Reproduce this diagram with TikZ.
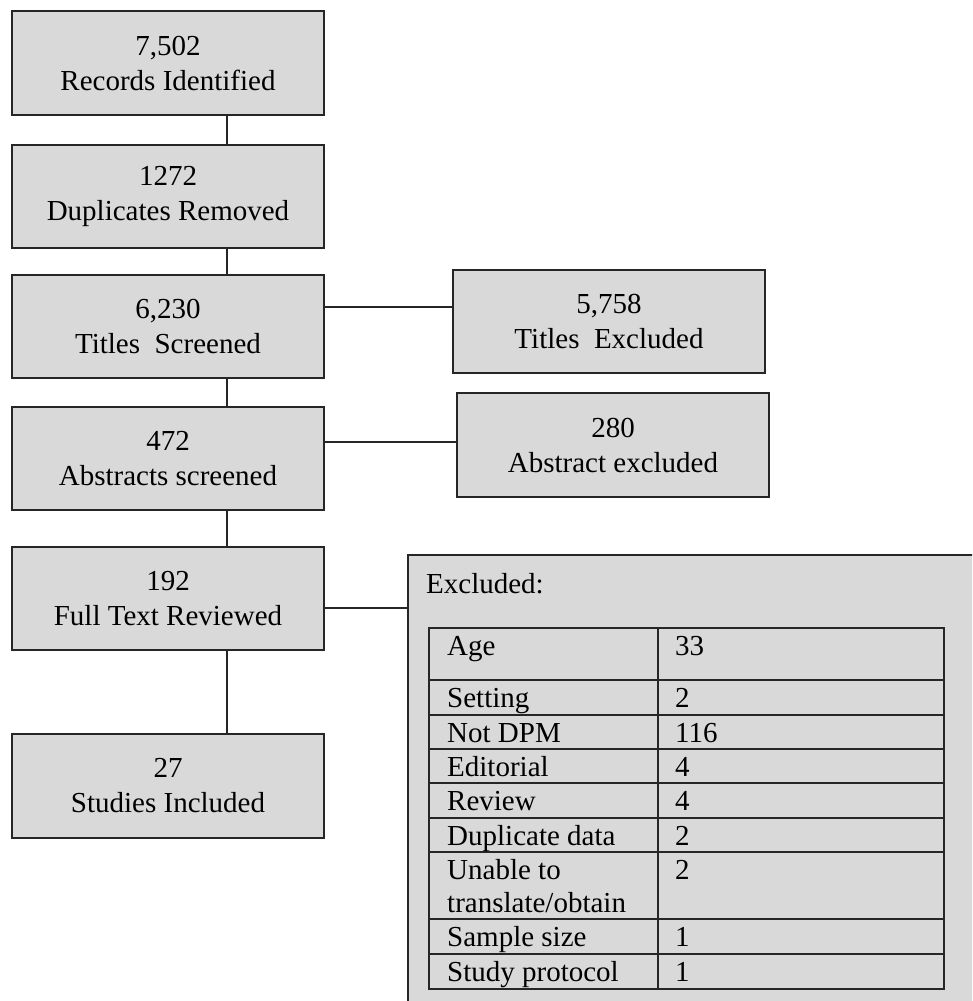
\documentclass[tikz,border=0pt]{standalone}
\usepackage{fontspec}
\setmainfont{Liberation Serif}
\definecolor{boxgray}{HTML}{D9D9D9}
\definecolor{linegray}{HTML}{262626}
\begin{document}
\begin{tikzpicture}[x=1pt,y=-1pt,
                    snode/.style = {shape = rectangle,
                                    draw = linegray,
                                    fill = boxgray,
                                    line width = 1.8pt,
                                    minimum width = 312pt,
                                    minimum height = 103pt,
                                    inner sep = 0pt,
                                    align = center,
                                    font = \fontsize{29}{35}\selectfont},
                    cell/.style = {anchor = base west,
                                   inner sep = 0pt,
                                   align = left,
                                   font = \fontsize{29}{33}\selectfont},
                    link/.style = {draw = linegray,
                                   line width = 1.6pt}]
		\clip (0,0) rectangle (972,1001);
		\fill[white] (0,0) rectangle (972,1001);
		\node[snode, minimum height = 104pt] (rec) at (168,63) {7,502\\Records Identified};
		\node[snode] (dup) at (168,196.5) {1272\\Duplicates Removed};
		\node[snode] (tit) at (168,326.5) {6,230\\Titles~ Screened};
		\node[snode] (abs) at (168,458.5) {472\\Abstracts screened};
		\node[snode] (ful) at (168,598.5) {192\\Full Text Reviewed};
		\node[snode, minimum height = 104pt] (inc) at (168,786) {27\\Studies Included};
		\node[snode] (texc) at (609,321.5) {5,758\\Titles~ Excluded};
		\node[snode, minimum height = 104pt] (aexc) at (613,445) {280\\Abstract excluded};
		\node[snode, minimum width = 590pt, minimum height = 470pt] (exc) at (703,790) {};
		\coordinate (spine) at (227,0);
		\coordinate (j1) at (0,307);
		\coordinate (j2) at (0,442);
		\coordinate (j3) at (0,608);
		\path[link] (rec.south -| spine) edge (dup.north -| spine);
		\path[link] (dup.south -| spine) edge (tit.north -| spine);
		\path[link] (tit.south -| spine) edge (abs.north -| spine);
		\path[link] (abs.south -| spine) edge (ful.north -| spine);
		\path[link] (ful.south -| spine) edge (inc.north -| spine);
		\path[link] (tit.east |- j1) edge (texc.west |- j1);
		\path[link] (abs.east |- j2) edge (aexc.west |- j2);
		\path[link] (ful.east |- j3) edge (exc.west |- j3);
		\node[cell] (exhead) at (426,593) {Excluded:};
		\foreach \top/\bot in {628/680, 680/715, 715/749, 749/783, 783/818, 818/852, 852/919, 919/954, 954/989}
			\draw[draw = linegray, line width = 2.2pt] (429,\top) rectangle (658,\bot) (658,\top) rectangle (944,\bot);
		\foreach \lbl/\val/\ly/\vy [count=\n] in {Age/33/655/655, Setting/2/707/707, Not DPM/116/742/742, Editorial/4/776/776, Review/4/810/810, Duplicate data/2/845/845, {Unable to\\translate/obtain}/2/912/879, Sample size/1/946/946, Study protocol/1/981/981}
		{
			\node[cell] (lbl\n) at (447,\ly) {\lbl};
			\node[cell] (val\n) at (675,\vy) {\val};
		}
	\end{tikzpicture}
\end{document}
